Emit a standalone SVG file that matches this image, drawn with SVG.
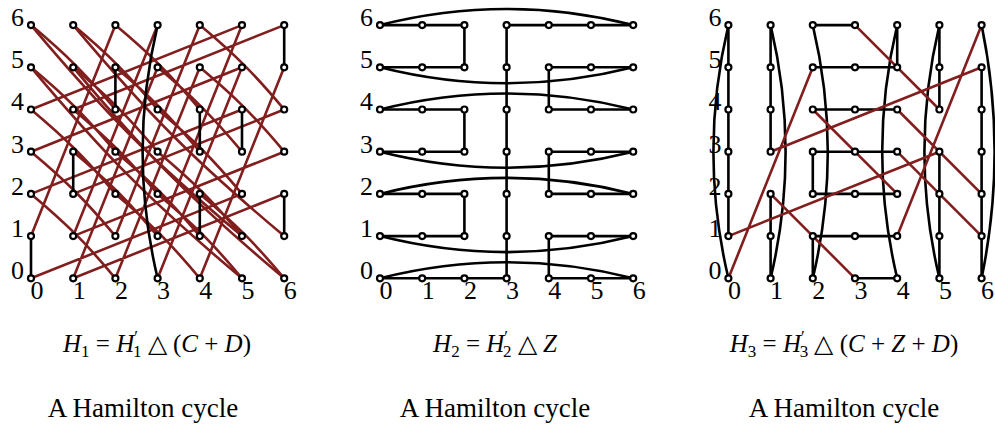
<svg xmlns="http://www.w3.org/2000/svg" width="995" height="425" viewBox="0 0 995 425">
<style>
.bg{fill:#fff}
.e{stroke:#000;stroke-width:2.6;fill:none;stroke-linecap:round;stroke-linejoin:round}
.r{stroke:#821e1e;stroke-width:2.6;fill:none;stroke-linecap:round}
.v circle{fill:#fff;stroke:#000;stroke-width:2.2}
.t{font-family:"Liberation Serif","Times New Roman",serif;font-size:26px;fill:#000}
.cap{font-family:"Liberation Serif","Times New Roman",serif;font-size:25px;fill:#000}
.cap2{font-family:"Liberation Serif","Times New Roman",serif;font-size:27px;fill:#000}
.i{font-style:italic}
</style>
<rect class="bg" x="0" y="0" width="995" height="425"/>
<g id="connectors">
<!-- grid 1 red: steep and shallow edges -->
<path class="r" d="M31 236.1L115.4 25.1 M284.2 193.9L73.2 278.3 M73.2 278.3L157.6 67.3 M242 109.5L31 193.9 M115.4 278.3L199.8 67.3 M284.2 151.7L73.2 236.1 M73.2 236.1L157.6 25.1 M157.6 278.3L242 67.3 M242 67.3L31 151.7 M115.4 236.1L199.8 25.1 M284.2 109.5L73.2 193.9 M157.6 236.1L242 25.1 M242 25.1L31 109.5 M199.8 278.3L284.2 67.3 M284.2 25.1L73.2 109.5 M242 193.9L31 278.3"/>
<!-- grid 1 red: diagonal edges -->
<path class="r" d="M115.4 25.1C151.2 55.1 169.8 73.7 199.8 109.5 M157.6 67.3C193.4 97.3 212 115.9 242 151.7 M31 193.9C66.8 223.9 85.4 242.5 115.4 278.3 M199.8 67.3C235.6 97.3 254.2 115.9 284.2 151.7 M31 151.7C66.8 181.7 85.4 200.3 115.4 236.1 M199.8 25.1C235.6 55.1 254.2 73.7 284.2 109.5 M73.2 151.7C109 181.7 127.6 200.3 157.6 236.1 M31 109.5C66.8 139.5 85.4 158.1 115.4 193.9 M115.4 193.9C151.2 223.9 169.8 242.5 199.8 278.3 M73.2 109.5C109 139.5 127.6 158.1 157.6 193.9 M157.6 193.9C193.4 223.9 212 242.5 242 278.3 M31 67.3C66.8 97.3 85.4 115.9 115.4 151.7 M115.4 151.7C151.2 181.7 169.8 200.3 199.8 236.1 M199.8 193.9C235.6 223.9 254.2 242.5 284.2 278.3 M73.2 67.3C109 97.3 127.6 115.9 157.6 151.7 M157.6 151.7C193.4 181.7 212 200.3 242 236.1 M31 25.1C66.8 55.1 85.4 73.7 115.4 109.5 M115.4 67.3C151.2 97.3 169.8 115.9 199.8 151.7 M73.2 25.1C109 55.1 127.6 73.7 157.6 109.5 M157.6 109.5C193.4 139.5 212 158.1 242 193.9"/>
<path class="r" d="M242 278.3C152.5 203.2 106.1 156.8 31 67.3 M284.2 278.3C194.7 203.2 148.3 156.8 73.2 67.3 M242 236.1C152.5 161 106.1 114.6 31 25.1 M284.2 236.1C194.7 161 148.3 114.6 73.2 25.1"/>
<!-- grid 1 black -->
<path class="e" d="M31 278.3V236.1 M73.2 193.9V151.7 M115.4 109.5V67.3 M284.2 67.3V25.1 M199.8 151.7V109.5 M242 151.7V109.5 M199.8 236.1V193.9 M284.2 236.1V193.9"/>
<path class="e" d="M157.6 25.1Q127.6 151.7 157.6 278.3"/>
<!-- grid 2 -->
<path class="e" d="M506.6 278.3V25.1 M380 25.1H464.4V67.3H380 M506.6 25.1H633.2 M633.2 67.3H548.8V109.5H633.2 M380 109.5H464.4V151.7H380 M633.2 151.7H548.8V193.9H633.2 M380 193.9H464.4V236.1H380 M633.2 236.1H548.8V278.3H633.2 M380 278.3H506.6"/>
<path class="e" d="M380 25.1Q506.6 -7 633.2 25.1 M380 67.3Q506.6 99.3 633.2 67.3 M380 109.5Q506.6 77.5 633.2 109.5 M380 151.7Q506.6 183.7 633.2 151.7 M380 193.9Q506.6 161.9 633.2 193.9 M380 236.1Q506.6 268.1 633.2 236.1 M380 278.3Q506.6 246.3 633.2 278.3"/>
<!-- grid 3 black -->
<path class="e" d="M728.4 236.1V25.1 M770.6 25.1V151.7 M770.6 193.9V278.3 M812.8 278.3V236.1 M812.8 193.9V151.7 M897.2 25.1V67.3 M939.4 25.1V109.5 M939.4 151.7V278.3 M981.6 67.3V278.3 M812.8 25.1H855 M812.8 67.3H897.2 M812.8 109.5H897.2 M812.8 151.7H897.2 M812.8 193.9H897.2 M812.8 236.1H897.2 M855 278.3H897.2"/>
<path class="e" d="M728.4 25.1Q698.4 151.7 728.4 278.3 M770.6 25.1Q800.6 151.7 770.6 278.3 M812.8 25.1Q842.8 151.7 812.8 278.3 M897.2 25.1Q867.2 151.7 897.2 278.3 M939.4 25.1Q909.4 151.7 939.4 278.3 M981.6 25.1Q1007.6 151.7 981.6 278.3"/>
<!-- grid 3 red -->
<path class="r" d="M728.4 278.3L812.8 67.3 M770.6 193.9L855 278.3 M812.8 109.5L897.2 193.9 M855 25.1L939.4 109.5 M897.2 236.1L981.6 25.1 M939.4 151.7L728.4 236.1 M981.6 67.3L770.6 151.7 M897.2 109.5L981.6 193.9 M897.2 151.7L981.6 236.1"/>
</g>
<g id="nodes" class="v">
<g id="A"><circle cx="31" cy="278.3" r="3"/><circle cx="31" cy="236.1" r="3"/><circle cx="31" cy="193.9" r="3"/><circle cx="31" cy="151.7" r="3"/><circle cx="31" cy="109.5" r="3"/><circle cx="31" cy="67.3" r="3"/><circle cx="31" cy="25.1" r="3"/>
<circle cx="73.2" cy="278.3" r="3"/><circle cx="73.2" cy="236.1" r="3"/><circle cx="73.2" cy="193.9" r="3"/><circle cx="73.2" cy="151.7" r="3"/><circle cx="73.2" cy="109.5" r="3"/><circle cx="73.2" cy="67.3" r="3"/><circle cx="73.2" cy="25.1" r="3"/>
<circle cx="115.4" cy="278.3" r="3"/><circle cx="115.4" cy="236.1" r="3"/><circle cx="115.4" cy="193.9" r="3"/><circle cx="115.4" cy="151.7" r="3"/><circle cx="115.4" cy="109.5" r="3"/><circle cx="115.4" cy="67.3" r="3"/><circle cx="115.4" cy="25.1" r="3"/>
<circle cx="157.6" cy="278.3" r="3"/><circle cx="157.6" cy="236.1" r="3"/><circle cx="157.6" cy="193.9" r="3"/><circle cx="157.6" cy="151.7" r="3"/><circle cx="157.6" cy="109.5" r="3"/><circle cx="157.6" cy="67.3" r="3"/><circle cx="157.6" cy="25.1" r="3"/>
<circle cx="199.8" cy="278.3" r="3"/><circle cx="199.8" cy="236.1" r="3"/><circle cx="199.8" cy="193.9" r="3"/><circle cx="199.8" cy="151.7" r="3"/><circle cx="199.8" cy="109.5" r="3"/><circle cx="199.8" cy="67.3" r="3"/><circle cx="199.8" cy="25.1" r="3"/>
<circle cx="242" cy="278.3" r="3"/><circle cx="242" cy="236.1" r="3"/><circle cx="242" cy="193.9" r="3"/><circle cx="242" cy="151.7" r="3"/><circle cx="242" cy="109.5" r="3"/><circle cx="242" cy="67.3" r="3"/><circle cx="242" cy="25.1" r="3"/>
<circle cx="284.2" cy="278.3" r="3"/><circle cx="284.2" cy="236.1" r="3"/><circle cx="284.2" cy="193.9" r="3"/><circle cx="284.2" cy="151.7" r="3"/><circle cx="284.2" cy="109.5" r="3"/><circle cx="284.2" cy="67.3" r="3"/><circle cx="284.2" cy="25.1" r="3"/></g>
<g id="B" transform="translate(349 0)"><use href="#A"/></g>
<g id="C" transform="translate(697.4 0)"><use href="#A"/></g>
</g>
<g id="labels" class="t">
<text x="24" y="279" text-anchor="end">0</text><text x="24" y="237" text-anchor="end">1</text><text x="24" y="195" text-anchor="end">2</text><text x="24" y="153" text-anchor="end">3</text><text x="24" y="110" text-anchor="end">4</text><text x="24" y="68" text-anchor="end">5</text><text x="24" y="26" text-anchor="end">6</text>
<text x="30.5" y="299">0</text><text x="72.7" y="299">1</text><text x="114.9" y="299">2</text><text x="157.1" y="299">3</text><text x="199.3" y="299">4</text><text x="241.5" y="299">5</text><text x="283.7" y="299">6</text>
<text x="373" y="279" text-anchor="end">0</text><text x="373" y="237" text-anchor="end">1</text><text x="373" y="195" text-anchor="end">2</text><text x="373" y="153" text-anchor="end">3</text><text x="373" y="110" text-anchor="end">4</text><text x="373" y="68" text-anchor="end">5</text><text x="373" y="26" text-anchor="end">6</text>
<text x="379.5" y="299">0</text><text x="421.7" y="299">1</text><text x="463.9" y="299">2</text><text x="506.1" y="299">3</text><text x="548.3" y="299">4</text><text x="590.5" y="299">5</text><text x="632.7" y="299">6</text>
<text x="721.4" y="279" text-anchor="end">0</text><text x="721.4" y="237" text-anchor="end">1</text><text x="721.4" y="195" text-anchor="end">2</text><text x="721.4" y="153" text-anchor="end">3</text><text x="721.4" y="110" text-anchor="end">4</text><text x="721.4" y="68" text-anchor="end">5</text><text x="721.4" y="26" text-anchor="end">6</text>
<text x="727.9" y="299">0</text><text x="770.1" y="299">1</text><text x="812.3" y="299">2</text><text x="854.5" y="299">3</text><text x="896.7" y="299">4</text><text x="938.9" y="299">5</text><text x="981.1" y="299">6</text>
</g>
<g id="captions">
<text class="cap" x="157" y="352" text-anchor="middle"><tspan class="i">H</tspan><tspan font-size="17" dy="5">1</tspan><tspan dy="-5"> = </tspan><tspan class="i">H</tspan><tspan font-size="17" dy="-10">′</tspan><tspan font-size="17" dx="-5" dy="15">1</tspan><tspan dy="-5"> △ (</tspan><tspan class="i">C</tspan> + <tspan class="i">D</tspan>)</text>
<text class="cap" x="495" y="352" text-anchor="middle"><tspan class="i">H</tspan><tspan font-size="17" dy="5">2</tspan><tspan dy="-5"> = </tspan><tspan class="i">H</tspan><tspan font-size="17" dy="-10">′</tspan><tspan font-size="17" dx="-5" dy="15">2</tspan><tspan dy="-5"> △ </tspan><tspan class="i">Z</tspan></text>
<text class="cap" x="844" y="352" text-anchor="middle"><tspan class="i">H</tspan><tspan font-size="17" dy="5">3</tspan><tspan dy="-5"> = </tspan><tspan class="i">H</tspan><tspan font-size="17" dy="-10">′</tspan><tspan font-size="17" dx="-5" dy="15">3</tspan><tspan dy="-5"> △ (</tspan><tspan class="i">C</tspan> + <tspan class="i">Z</tspan> + <tspan class="i">D</tspan>)</text>
<text class="cap2" x="143" y="417" text-anchor="middle">A Hamilton cycle</text>
<text class="cap2" x="495" y="417" text-anchor="middle">A Hamilton cycle</text>
<text class="cap2" x="844" y="417" text-anchor="middle">A Hamilton cycle</text>
</g>
</svg>
